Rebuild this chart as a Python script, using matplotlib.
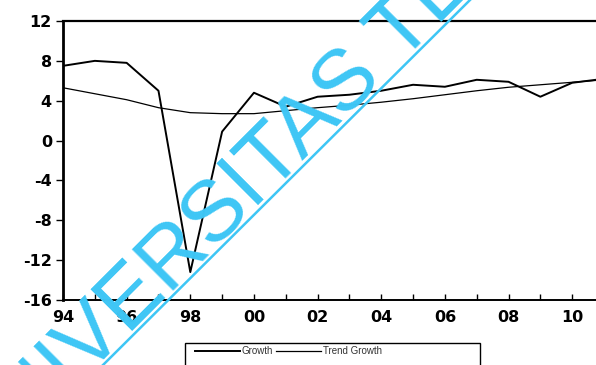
import matplotlib
matplotlib.use("Agg")
import matplotlib.pyplot as plt
from matplotlib.lines import Line2D
from matplotlib.patches import Rectangle

plt.rcParams['font.family'] = ['Liberation Sans', 'DejaVu Sans']
plt.rcParams['axes.unicode_minus'] = False

years = list(range(1994, 2012))
growth = [7.5, 8.0, 7.8, 5.0, -13.2, 0.9, 4.8, 3.4, 4.4, 4.6,
          5.0, 5.6, 5.4, 6.1, 5.9, 4.4, 5.8, 6.2]
trend_growth = [5.3, 4.7, 4.1, 3.3, 2.8, 2.7, 2.7, 3.0, 3.3, 3.55,
                3.85, 4.2, 4.6, 5.0, 5.35, 5.6, 5.85, 6.1]
y_ticks = [12, 8, 4, 0, -4, -8, -12, -16]
x_ticks = [1994, 1996, 1998, 2000, 2002, 2004, 2006, 2008, 2010]
x_labels = ['94', '96', '98', '00', '02', '04', '06', '08', '10']

W, H = 596, 365
fig = plt.figure(figsize=(W / 100, H / 100), dpi=100)
ax = fig.add_axes([63 / W, 1 - 300 / H, 541 / W, 279 / H])

ax.plot(years, growth, color='black', lw=1.4, label='Growth')
ax.plot(years, trend_growth, color='black', lw=0.9, label='Trend Growth')

ax.set_xlim(1994, 2011)
ax.set_ylim(-16, 12)
ax.set_yticks(y_ticks)
ax.set_yticklabels([str(v) for v in y_ticks])
ax.set_xticks(x_ticks)
ax.set_xticklabels(x_labels)
ax.set_xticks(years, minor=True)

tick_font = dict(family='DejaVu Sans', weight='bold', size=11.5)
for lbl in ax.get_xticklabels() + ax.get_yticklabels():
    lbl.set_fontproperties(tick_font)

ax.tick_params(axis='y', direction='out', length=5, width=1, pad=3)
ax.tick_params(axis='x', which='both', direction='in', length=4, width=1, pad=7)
ax.spines['right'].set_visible(False)
ax.spines['left'].set_linewidth(2.0)
ax.spines['top'].set_linewidth(1.6)
ax.spines['bottom'].set_linewidth(1.4)

# legend below the plot, in an open box that runs off the bottom
handles, labels = ax.get_legend_handles_labels()
fig.legend(handles, labels, loc='upper left', bbox_to_anchor=(193 / W, 1 - 344 / H),
           ncol=2, frameon=False, fontsize=7, handlelength=4.6, handletextpad=0.15,
           columnspacing=0.4, labelcolor='#333333', borderaxespad=0, borderpad=0.2)
fig.add_artist(Rectangle((185 / W, -0.05), (480 - 185) / W, 0.05 + 1 - 343 / H,
                         transform=fig.transFigure, fill=False, ec='black', lw=1.0))

# repository stamp across the page
stamp = '#3ec6f5'
fig.text(-18 / W, 1 - 481 / H, 'UNIVERSITAS TE', fontsize=62, color=stamp,
         rotation=45, rotation_mode='anchor', ha='left', va='baseline', zorder=10)
fig.add_artist(Line2D([103 / W, 470 / W], [1 - 365 / H, 1.0], transform=fig.transFigure,
                      color=stamp, lw=1.8, zorder=10))

fig.savefig('out.png', dpi=100)
